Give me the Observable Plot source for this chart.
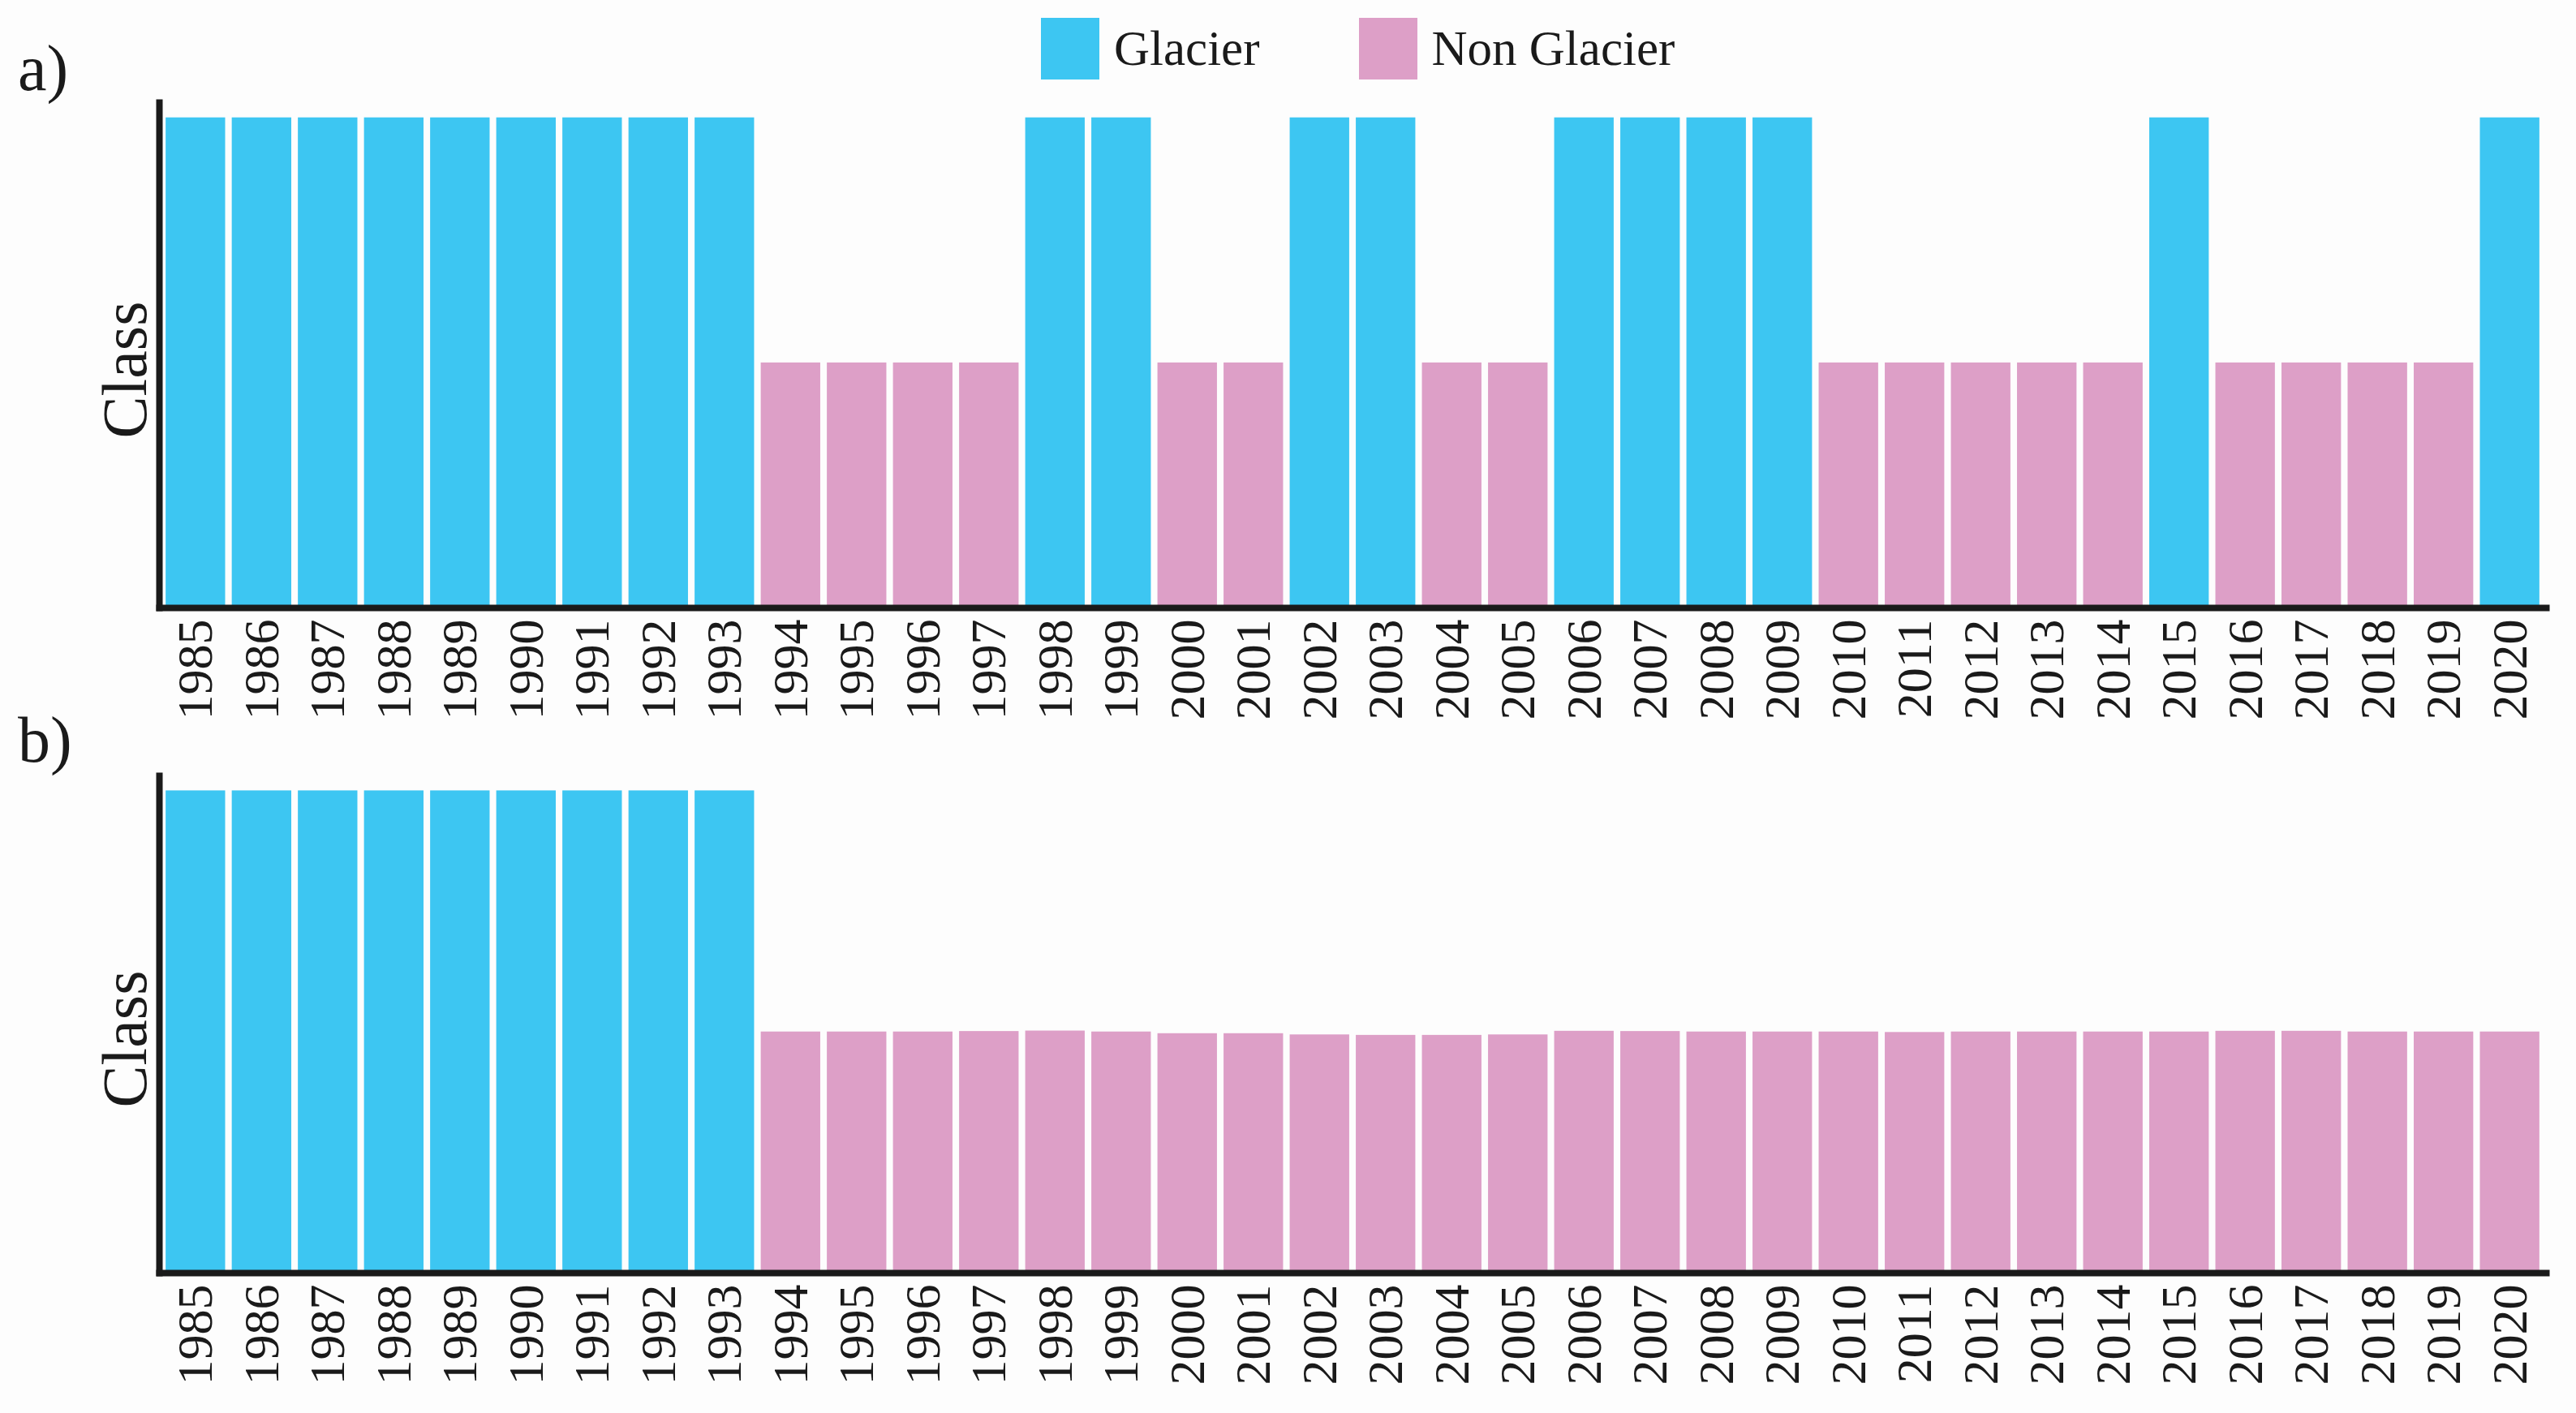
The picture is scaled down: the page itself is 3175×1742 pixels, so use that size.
<!DOCTYPE html>
<html>
<head>
<meta charset="utf-8">
<script src="https://cdn.jsdelivr.net/npm/d3@7"></script>
<script src="https://cdn.jsdelivr.net/npm/@observablehq/plot@0.6"></script>
<style>
  html, body { margin: 0; padding: 0; background: #fdfdfd; }
  #wrap { position: relative; width: 3175px; height: 1742px; background: #fdfdfd; font-family: "Liberation Serif", serif; color: #1a1a1a; overflow: hidden; }
  .panel-label { position: absolute; font-size: 80px; line-height: 1; }
  .legend { position: absolute; top: 22px; left: 1283px; display: flex; align-items: center; }
  .legend .item { display: flex; align-items: center; }
  .legend .sw { width: 72px; height: 76px; }
  .legend .lbl { font-size: 61px; margin-left: 18px; }
  .plot { position: absolute; left: 0; }
</style>
</head>
<body>
<div id="wrap"></div>
<script>
const years = [1985,1986,1987,1988,1989,1990,1991,1992,1993,1994,1995,1996,1997,1998,1999,2000,2001,2002,2003,2004,2005,2006,2007,2008,2009,2010,2011,2012,2013,2014,2015,2016,2017,2018,2019,2020];
const classes = ["Glacier", "Non Glacier"];
const classColors = ["#3dc6f2", "#dd9fc7"];

// Panel a: class per year and bar height (Glacier = 2, Non Glacier = 1)
const classA = ["Glacier","Glacier","Glacier","Glacier","Glacier","Glacier","Glacier","Glacier","Glacier",
  "Non Glacier","Non Glacier","Non Glacier","Non Glacier","Glacier","Glacier","Non Glacier","Non Glacier",
  "Glacier","Glacier","Non Glacier","Non Glacier","Glacier","Glacier","Glacier","Glacier",
  "Non Glacier","Non Glacier","Non Glacier","Non Glacier","Non Glacier","Glacier",
  "Non Glacier","Non Glacier","Non Glacier","Non Glacier","Glacier"];
const valueA = [2,2,2,2,2,2,2,2,2, 1,1,1,1, 2,2, 1,1, 2,2, 1,1, 2,2,2,2, 1,1,1,1,1, 2, 1,1,1,1, 2];

// Panel b
const classB = ["Glacier","Glacier","Glacier","Glacier","Glacier","Glacier","Glacier","Glacier","Glacier",
  "Non Glacier","Non Glacier","Non Glacier","Non Glacier","Non Glacier","Non Glacier","Non Glacier","Non Glacier",
  "Non Glacier","Non Glacier","Non Glacier","Non Glacier","Non Glacier","Non Glacier","Non Glacier","Non Glacier",
  "Non Glacier","Non Glacier","Non Glacier","Non Glacier","Non Glacier","Non Glacier","Non Glacier","Non Glacier",
  "Non Glacier","Non Glacier","Non Glacier"];
const valueB = [2,2,2,2,2,2,2,2,2, 1,1,1,1.002,1.004,1, 0.993,0.993, 0.988,0.986,0.986,0.988, 1.003,1.002,1,1, 1,0.998,1,1,1, 1,1.003,1.003,1,1,1];

const yLabel = "Class";
const panelLabels = ["a)", "b)"];

const wrap = document.getElementById("wrap");

// Legend
const legend = document.createElement("div");
legend.className = "legend";
classes.forEach((c, i) => {
  const item = document.createElement("div");
  item.className = "item";
  item.style.marginRight = i === 0 ? "122px" : "0";
  const sw = document.createElement("div");
  sw.className = "sw";
  sw.style.background = classColors[i];
  const lbl = document.createElement("span");
  lbl.className = "lbl";
  lbl.textContent = c;
  item.appendChild(sw); item.appendChild(lbl);
  legend.appendChild(item);
});
wrap.appendChild(legend);

function makePanel(cls, vals, top, height, marginBottom, labelTop, label) {
  const data = years.map((y, i) => ({year: y, cls: cls[i], value: vals[i]}));
  const chart = Plot.plot({
    width: 3175,
    height: height,
    marginTop: 26,
    marginBottom: marginBottom,
    marginLeft: 196,
    marginRight: 37,
    style: {fontFamily: "Liberation Serif, serif", fontSize: "62px", color: "#1a1a1a", background: "transparent", overflow: "visible"},
    x: {type: "band", domain: years, round: false, paddingInner: 0.1, paddingOuter: 0.1, tickRotate: -90, tickSize: 0, tickPadding: 14, tickFormat: d => String(d), label: null},
    y: {domain: [0, 2.062], axis: null},
    color: {domain: classes, range: classColors},
    marks: [
      Plot.barY(data, {x: "year", y: "value", fill: "cls"}),
      Plot.frame({anchor: "left", stroke: "#1a1a1a", strokeWidth: 8}),
      Plot.frame({anchor: "bottom", stroke: "#1a1a1a", strokeWidth: 8}),
      Plot.text([yLabel], {frameAnchor: "left", textAnchor: "middle", rotate: -90, dx: -41, dy: 18, fontSize: 78, fill: "#1a1a1a"})
    ]
  });
  chart.classList.add("plot");
  chart.style.top = top + "px";
  wrap.appendChild(chart);
  const pl = document.createElement("div");
  pl.className = "panel-label";
  pl.style.left = "22px";
  pl.style.top = labelTop + "px";
  pl.textContent = label;
  wrap.appendChild(pl);
}

makePanel(classA, valueA, 100, 810, 161, 44, panelLabels[0]);
makePanel(classB, valueB, 930, 805, 166, 872, panelLabels[1]);
</script>
</body>
</html>
